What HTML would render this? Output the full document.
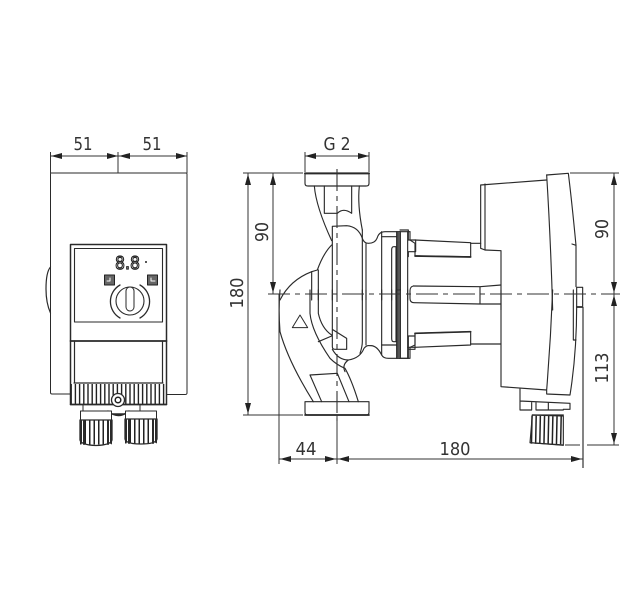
<!DOCTYPE html>
<html><head><meta charset="utf-8"><style>
html,body{margin:0;padding:0;background:#fff}
svg{display:block}
.l{fill:none;stroke:#2a2a2a;stroke-width:1;stroke-linejoin:round;stroke-linecap:round}
.z{fill:none;stroke:#2a2a2a;stroke-width:3.4;stroke-linejoin:round;stroke-linecap:round}
.d{fill:none;stroke:#333;stroke-width:1}
text{font-family:"DejaVu Sans","Liberation Sans",sans-serif;font-size:18px;fill:#333;text-anchor:middle}
</style></head><body>
<svg width="640" height="600" viewBox="0 0 640 600" xmlns="http://www.w3.org/2000/svg">
<defs>
<path id="ah" d="M0 0L11 -3L11 3Z" fill="#222"/>
</defs>
<rect width="640" height="600" fill="#fff"/>

<!-- LEFT VIEW -->
<g class="l">
<path d="M70.5 173H51Q50.5 173 50.5 174V392.500Q50.500 394 52 394H70.500"/>
<path d="M70 173H186Q187 173 187 174V393Q187 394.500 185 394.500H167"/>
<path d="M50.500 267Q46 272 46 289Q46 303 50.500 313" stroke-width="1.200"/>
<rect x="70.500" y="244.500" width="96" height="160" fill="#fff" stroke-width="1.500"/>
<rect x="74.500" y="248.500" width="88" height="73.500" stroke-width="1.100"/>
<path d="M70.500 341H166.500" stroke-width="1.800"/>
<path d="M74.500 341V383M162.500 341V383M74 383H163" stroke-width="1.200"/>
<line x1="70.500" y1="394" x2="166.500" y2="394" stroke="#222" stroke-width="20" stroke-dasharray="1.400 2.800" stroke-linecap="butt"/>
<path d="M70.500 404.500H166.500" stroke-width="1.400"/>
<rect x="104.500" y="275" width="10" height="10" fill="#666" stroke="#222"/>
<rect x="147.500" y="275" width="10" height="10" fill="#666" stroke="#222"/>
<path d="M107 281h3v-3M155 281h-4v-3" stroke="#fff"/>
<circle cx="130" cy="301" r="14" stroke-width="1.100"/>
<rect x="126" y="287" width="8" height="24" rx="4" fill="#fff"/>
<path d="M120 318A19 19 0 0 1 120 285" stroke-width="1.300"/>
<path d="M140 318A19 19 0 0 0 140 285" stroke-width="1.300"/>
<!-- connectors -->
<path d="M83 405V412H111M140 405V411H155M84 412V416M152 411V416"/>
<path d="M108 411Q118 420 129 411M111 414H126" stroke-width="1.500"/>
<rect x="80.500" y="411" width="31" height="9" fill="#fff"/>
<rect x="125.500" y="411" width="31" height="8" fill="#fff"/>
<circle cx="118" cy="400" r="6.500" fill="#fff" stroke-width="1.300"/>
<circle cx="118" cy="400" r="2.800" stroke="#222" stroke-width="1.500"/>
<line x1="80" y1="432" x2="112" y2="432" stroke="#222" stroke-width="25" stroke-dasharray="1.500 3" stroke-linecap="butt"/>
<line x1="125" y1="431" x2="157" y2="431" stroke="#222" stroke-width="25" stroke-dasharray="1.500 3" stroke-linecap="butt"/>
<path d="M80 420H112M80 420V440Q81 445 96 445.500Q111 445 112 440V420" stroke-width="1.300"/>
<path d="M125 419H157M125 419V439Q126 444 141 444Q156 444 157 439V419" stroke-width="1.300"/>
<path d="M81 421V443M84 421V444M108 421V444M111 421V443M126 420V442M129 420V443M153 420V443M156 420V442" stroke-width="2"/>
</g>
<text x="127.500" y="269" textLength="25" lengthAdjust="spacingAndGlyphs" style="font-size:18px;fill:#fff;stroke:#222;stroke-width:1.200">8.8</text>
<circle cx="146" cy="262" r="1" fill="#222"/>

<!-- left dims -->
<g class="d">
<path d="M50.500 152V173M118 152V173M187 152V173"/>
<path d="M50.500 156H187"/>
</g>
<use href="#ah" transform="translate(51 156)"/>
<use href="#ah" transform="translate(118 156) rotate(180)"/>
<use href="#ah" transform="translate(119 156)"/>
<use href="#ah" transform="translate(187 156) rotate(180)"/>
<text x="83" y="150" textLength="19" lengthAdjust="spacingAndGlyphs">51</text>
<text x="152" y="150" textLength="19" lengthAdjust="spacingAndGlyphs">51</text>

<!-- PUMP BODY Z3 -->
<g transform="translate(230 130) scale(.33333)">
<g class="z">
<path d="M225 130H417V160Q417 168 408 168H234Q225 168 225 160Z"/>
<path d="M225 130H417" stroke-width="6"/>
<path d="M253 168Q258 230 305 332"/>
<path d="M388 168Q382 225 397 300"/>
<path d="M283 168V250H322Q340 232 365 250V168"/>
<path d="M307 510V289L350 287Q385 290 397 325Q402 340 415 340Q435 340 441 325Q447 305 465 305H505"/>
<path d="M305 345Q280 370 262 420L245 425Q180 450 150 510"/>
<path d="M245 425V510M265 420V510M397 300V510M408 340V510"/>
<path d="M455 305V510M500 305V510"/>
<path d="M455 320H500"/>
<path d="M485 510V360Q485 350 491 350H498V510"/>
<path d="M540 305V330L555 340V378H570"/>
<path d="M507 305H540"/>
<path d="M510 305V510M533 305V510"/>
</g>
<path d="M501 305H512V510H501Z" fill="#555" stroke="#222" stroke-width="2"/>
</g>

<!-- Z4 -->
<g transform="translate(230 290) scale(.33333)">
<g class="z">
<path d="M225 335H417V367Q417 375 408 375H234Q225 375 225 367Z"/>
<path d="M225 375H417" stroke-width="5"/>
<path d="M150 0Q145 60 150 125Q175 215 250 335"/>
<path d="M240 0V70Q245 125 300 205Q320 225 345 235Q365 270 385 335"/>
<path d="M265 0V70Q275 115 305 135M265 155L305 138"/>
<path d="M307 0V170Q307 178 315 178H350V145L307 118"/>
<path d="M307 178Q325 210 355 210Q390 205 402 175Q410 165 420 167Q440 165 455 195Q460 205 475 205H505"/>
<path d="M355 210Q335 225 345 245"/>
<path d="M240 255L322 250L357 335M240 255L275 335"/>
<path d="M187 113L210 75L233 113Z" stroke-width="3"/>
<path d="M397 0V155Q397 170 390 190M408 0V165"/>
<path d="M455 0V195M500 0V205"/>
<path d="M455 165H500"/>
<path d="M485 0V145Q485 155 491 155H498V0"/>
<path d="M510 0V205M533 0V205"/>
<path d="M507 205H540V172L555 165V130H570"/>
<path d="M533 172H555"/>
</g>
<path d="M501 0H512V205H501Z" fill="#555" stroke="#222" stroke-width="2"/>
</g>

<!-- MOTOR Z5 -->
<g transform="translate(400 160) scale(.33333)">
<g class="z">
<path d="M25 210H0M25 210V240H47V275H25V290"/>
<path d="M45 240L212 248V290L45 288" />
<path d="M45 288L212 291" stroke-width="5"/>
<path d="M212 250H242"/>
<path d="M242 75L440 60M242 75V265L255 270L303 272V450"/>
<path d="M255 72V270"/>
<path d="M440 45L505 40Q515 120 528 256"/>
<path d="M440 45Q452 240 458 450"/>
<path d="M516 252L528 256V380"/>
<path d="M530 382H548V442H530Z"/>
<path d="M40 378L240 380L303 375M40 378Q30 380 30 392V415Q30 428 42 428L240 432L303 432M240 380V432" />
</g>
</g>

<!-- Z6 -->
<g transform="translate(400 290) scale(.33333)">
<g class="z">
<path d="M303 0V290L440 300M458 0Q452 150 440 300V312L510 315Q530 190 530 50H545"/>
<path d="M520 0V150H528"/>
<path d="M360 297V360H395V335M360 333L510 340V358H490"/>
<path d="M408 338V360H490M445 338V360"/>
<path d="M45 130L212 125V165L45 172"/>
<path d="M45 130L212 125" stroke-width="5"/>
<path d="M45 138H25V178H45V130M25 178V205H0"/>
<path d="M212 162H303"/>
</g>
<line x1="393" y1="419" x2="490" y2="421" stroke="#222" stroke-width="84" stroke-dasharray="4.500 8" stroke-linecap="butt"/>
<path class="z" d="M397 375L490 378V465L390 458Z"/>
<path class="z" d="M390 458L490 466" stroke-width="6"/>
<path class="z" d="M397 375H490" stroke-width="6"/>
</g>

<!-- center lines -->
<g class="d" stroke-width="1">
<path d="M268 294H620" stroke-dasharray="22 5 5 5"/>
<path d="M337 169V421" stroke-dasharray="22 5 5 5" style="stroke-width:1.100"/>
</g>

<!-- dims -->
<g class="d">
<path d="M305 152V172M369 152V172M305 156H369"/>
<path d="M243 173H303M243 415H303"/>
<path d="M248 173V415M273 173V294"/>
<path d="M279 294V464M337 415V464M279 459H583"/>
<path d="M583 307V468" style="stroke-width:1.200"/>
<path d="M570 173H619M565 445H580M587 445H619"/>
<path d="M614 173V445"/>
</g>
<use href="#ah" transform="translate(305 156)"/>
<use href="#ah" transform="translate(369 156) rotate(180)"/>
<use href="#ah" transform="translate(248 174) rotate(90)"/>
<use href="#ah" transform="translate(248 414) rotate(-90)"/>
<use href="#ah" transform="translate(273 174) rotate(90)"/>
<use href="#ah" transform="translate(273 293) rotate(-90)"/>
<use href="#ah" transform="translate(280 459)"/>
<use href="#ah" transform="translate(336 459) rotate(180)"/>
<use href="#ah" transform="translate(338 459)"/>
<use href="#ah" transform="translate(582 459) rotate(180)"/>
<use href="#ah" transform="translate(614 174) rotate(90)"/>
<use href="#ah" transform="translate(614 293) rotate(-90)"/>
<use href="#ah" transform="translate(614 295) rotate(90)"/>
<use href="#ah" transform="translate(614 444) rotate(-90)"/>

<text x="337" y="150" textLength="27" lengthAdjust="spacingAndGlyphs">G 2</text>
<text x="306" y="455" textLength="21" lengthAdjust="spacingAndGlyphs">44</text>
<text x="455" y="455" textLength="31" lengthAdjust="spacingAndGlyphs">180</text>
<text transform="translate(268 232) rotate(-90)" textLength="20" lengthAdjust="spacingAndGlyphs">90</text>
<text transform="translate(243 293) rotate(-90)" textLength="31" lengthAdjust="spacingAndGlyphs">180</text>
<text transform="translate(608 229) rotate(-90)" textLength="20" lengthAdjust="spacingAndGlyphs">90</text>
<text transform="translate(608 368) rotate(-90)" textLength="31" lengthAdjust="spacingAndGlyphs">113</text>
</svg>
</body></html>
